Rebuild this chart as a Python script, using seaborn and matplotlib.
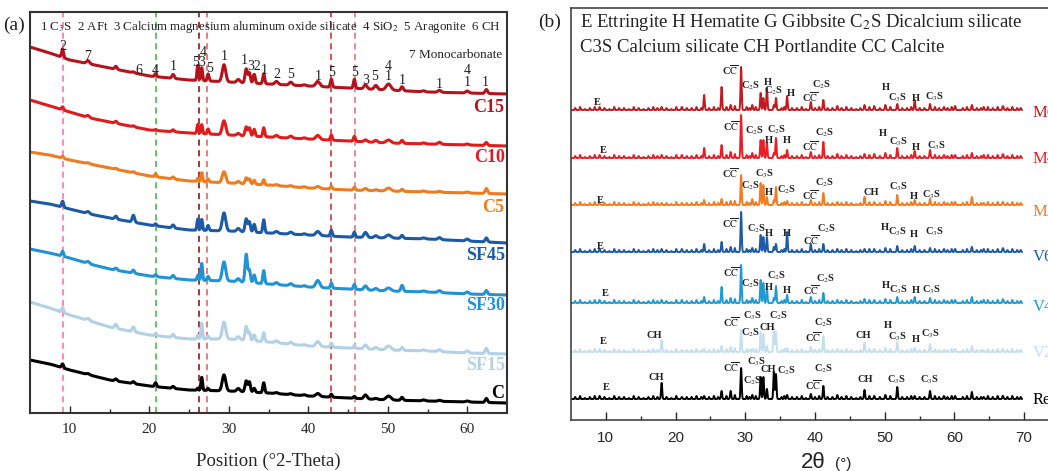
import numpy as np
import pandas as pd
import seaborn as sns
import matplotlib.pyplot as plt

sns.set_theme(style="ticks")
plt.rcParams['font.family'] = ['Liberation Serif', 'DejaVu Sans']
plt.rcParams['mathtext.fontset'] = 'stix'

# ---------------- panel (a) data ----------------
a_samples = ["C15", "C10", "C5", "SF45", "SF30", "SF15", "C"]
a_colors = ["#b5121b", "#e31a1c", "#f07b1e", "#1a5aa6", "#1f93d6", "#b3d1e6", "#000000"]
a_anchor = [5, 7.5, 10, 12.5, 15, 20, 25, 30, 35, 40, 45, 50, 55, 60, 65]
a_base = {
    "C15":  [366, 360, 353, 349, 345, 337, 333, 331, 329, 327, 325, 323, 321, 320, 319],
    "C10":  [313, 307, 301, 295, 291, 283, 280, 278, 276, 274, 272, 270, 269, 268, 267],
    "C5":   [261, 258, 253, 249, 245, 237, 232, 230, 228, 225, 223, 222, 221, 220, 219],
    "SF45": [212, 209, 204, 199, 195, 188, 183, 182, 180, 178, 176, 175, 174, 172, 170],
    "SF30": [164, 160, 155, 149, 144, 137, 133, 132, 129, 126, 124, 122, 121, 119, 118],
    "SF15": [111, 105, 98, 92, 86, 78, 74, 74, 71, 67, 65, 63, 62, 60, 59],
    "C":    [53, 49, 43, 38, 33, 27, 23, 22, 20, 17, 15, 13, 12, 11, 10],
}
a_peak_pos = [9.1, 12.3, 15.8, 18.0, 20.8, 23.0, 26.1, 26.6, 27.4, 29.4, 31.2, 32.2, 32.6, 33.2,
              34.4, 36.0, 37.8, 39.5, 41.2, 42.9, 45.8, 47.2, 48.5, 50.1, 51.8, 54.5, 56.5, 60.0, 62.4]
a_peak_width = [0.12, 0.2, 0.15, 0.15, 0.12, 0.15, 0.1, 0.1, 0.12, 0.22, 0.2, 0.15, 0.13, 0.13,
                0.12, 0.2, 0.2, 0.2, 0.25, 0.12, 0.12, 0.2, 0.2, 0.3, 0.15, 0.2, 0.2, 0.2, 0.15]
a_peak_h = {
    "C15":  [8, 3, 3, 1, 3, 4, 15, 13, 7, 17, 3, 14, 10, 9, 10, 3, 3, 1, 5, 8, 9, 4, 4, 6, 4, 1, 2, 2, 4],
    "C10":  [3, 2, 2, 1, 1, 2, 9, 9, 5, 14, 2, 9, 8, 7, 9, 2, 2, 1, 4, 5, 5, 2, 2, 3, 3, 1, 2, 1, 3],
    "C5":   [2, 1, 1, 1, 3, 2, 3, 9, 3, 11, 2, 6, 5, 4, 5, 1, 1, 1, 2, 3, 3, 2, 1, 3, 2, 1, 1, 1, 5],
    "SF45": [6, 2, 3, 7, 2, 3, 11, 11, 5, 18, 3, 13, 10, 8, 13, 2, 2, 1, 4, 6, 5, 5, 2, 3, 3, 1, 2, 2, 4],
    "SF30": [5, 2, 2, 3, 2, 3, 5, 17, 4, 19, 3, 28, 12, 8, 13, 2, 2, 1, 7, 5, 5, 4, 2, 3, 6, 1, 2, 2, 4],
    "SF15": [5, 2, 4, 5, 2, 3, 4, 16, 3, 17, 3, 14, 8, 6, 9, 2, 2, 1, 5, 4, 3, 4, 2, 4, 3, 1, 2, 2, 5],
    "C":    [4, 1, 2, 2, 4, 2, 2, 13, 2, 16, 3, 11, 10, 4, 10, 1, 1, 1, 3, 3, 2, 4, 1, 4, 3, 1, 1, 1, 4],
}
a_ref_lines = [9.1, 20.9, 26.3, 27.3, 42.9, 45.9]
a_ref_colors = ["#ff66b3", "#3cb043", "#8a0000", "#e05a5a", "#d42020", "#e06a6a"]
a_marks = [("2", 9.1, 366), ("7", 12.3, 356), ("6", 18.7, 343), ("4", 20.8, 343), ("1", 23.0, 346),
           ("53", 26.2, 350), ("4", 26.8, 361), ("5", 27.6, 344), ("1", 29.4, 356), ("1", 32.0, 353),
           ("32", 33.2, 347), ("1", 34.5, 343), ("2", 36.0, 338), ("5", 37.8, 338), ("1", 41.2, 336),
           ("5", 42.9, 340), ("5", 45.8, 340), ("3", 47.2, 333), ("5", 48.4, 336), ("4", 50.0, 347),
           ("1", 50.0, 336), ("1", 51.8, 333), ("1", 56.5, 328), ("4", 60.0, 343), ("1", 60.0, 330),
           ("1", 62.3, 330)]

# ---------------- panel (b) data ----------------
b_samples = ["M6", "M4", "M2", "V60", "V40", "V20", "Ref"]
b_colors = ["#c41a1f", "#ed1c24", "#f47b20", "#1d5aa8", "#1e9ad6", "#c5def0", "#000000"]
b_base = [310, 262, 215, 168, 117, 68, 21]
b_peak_pos = [9.1, 18.0, 20.9, 24.1, 26.6, 27.9, 29.4, 31.0, 32.2, 32.6, 33.1, 34.1, 34.4, 36.0,
              39.4, 41.2, 43.2, 47.1, 48.5, 50.1, 51.8, 54.3, 56.5, 58.5, 60.1, 62.5, 64.2, 67.0]
b_peak_h = {
    "M6":  [3, 3, 3, 15, 23, 5, 43, 5, 17, 12, 22, 5, 12, 14, 8, 10, 4, 5, 4, 5, 6, 10, 6, 3, 4, 5, 3, 3],
    "M4":  [3, 3, 3, 10, 13, 6, 43, 5, 18, 18, 15, 5, 20, 8, 6, 16, 4, 4, 4, 5, 10, 7, 8, 3, 3, 5, 3, 3],
    "M2":  [3, 2, 2, 5, 6, 4, 30, 6, 22, 20, 8, 5, 18, 4, 5, 12, 3, 8, 3, 4, 10, 5, 6, 3, 3, 8, 2, 2],
    "V60": [3, 3, 3, 8, 10, 5, 40, 4, 17, 15, 15, 5, 8, 20, 8, 8, 3, 3, 3, 4, 6, 6, 4, 3, 3, 5, 3, 3],
    "V40": [3, 3, 3, 6, 16, 5, 38, 5, 23, 20, 15, 5, 17, 8, 6, 10, 3, 4, 3, 4, 6, 6, 5, 3, 3, 6, 3, 3],
    "V20": [3, 12, 2, 3, 6, 5, 22, 3, 20, 18, 6, 24, 20, 4, 5, 16, 3, 9, 3, 4, 10, 4, 8, 2, 3, 6, 2, 2],
    "Ref": [3, 16, 2, 3, 8, 8, 31, 4, 22, 22, 10, 27, 25, 4, 5, 13, 4, 9, 3, 4, 12, 3, 8, 3, 3, 7, 2, 2],
}
b_minor_pos = [5.6, 6.3, 7.0, 7.7, 8.4, 9.8, 10.5, 11.2, 11.9, 12.6, 13.3, 14.0, 14.7, 15.4, 16.1,
               16.8, 17.4, 18.7, 19.4, 20.1, 21.6, 22.3, 23.0, 23.7, 24.8, 25.5, 26.1, 27.3, 28.5,
               30.2, 30.6, 31.5, 35.2, 35.6, 36.7, 37.4, 38.1, 38.7, 40.0, 40.6, 41.8, 42.5, 43.8,
               44.5, 45.2, 45.9, 46.5, 47.8, 49.3, 50.8, 52.5, 53.2, 53.8, 55.0, 55.7, 57.2, 57.8,
               59.0, 59.6, 61.2, 61.8, 63.2, 63.8, 64.8, 65.5, 66.2, 66.9, 67.6, 68.3, 69.0, 69.5]
b_minor_h = [2, 3, 1, 2, 3, 2, 1, 3, 2, 2, 1, 3, 2, 1, 2, 3, 2, 2, 1, 3, 2, 2, 3, 2, 2, 3, 2, 3, 4,
             3, 2, 3, 2, 3, 2, 2, 3, 1, 2, 3, 2, 2, 2, 3, 2, 1, 2, 3, 2, 3, 2, 2, 3, 2, 2, 3, 2, 2,
             3, 2, 3, 2, 2, 3, 2, 3, 2, 2, 3, 2, 2]

CC = r"C$\overline{\mathrm{C}}$"
C2S = r"C$_2$S"
C3S = r"C$_3$S"
b_marks = {
    "M6": [("E", 8.8, 318), (CC, 27.9, 350), (C2S, 30.8, 334), ("H", 33.3, 338), (C2S, 34.1, 329),
           ("H", 36.6, 327), (CC, 39.3, 323), (C2S, 41.0, 335), ("H", 50.2, 333), (C3S, 51.9, 322),
           ("H", 54.4, 322), (C3S, 57.2, 323)],
    "M4": [("E", 9.6, 270), (CC, 28.0, 294), (C2S, 31.3, 289), (C2S, 34.5, 290), ("H", 33.4, 280),
           ("H", 35.9, 280), (CC, 39.3, 274), (C2S, 41.4, 287), ("H", 49.8, 287), (C3S, 52.0, 278),
           ("H", 54.4, 273), (C3S, 57.5, 274)],
    "M2": [("E", 9.2, 220), (CC, 27.8, 247), (C3S, 32.8, 246), (C2S, 30.8, 234), ("H", 33.4, 228),
           (C2S, 35.9, 230), (CC, 39.3, 225), (C2S, 41.4, 237), ("CH", 48.0, 228), (C3S, 52.0, 233),
           ("H", 54.2, 224), (C3S, 56.7, 225)],
    "V60": [("E", 9.2, 174), (CC, 27.8, 197), (C2S, 31.6, 191), ("H", 33.4, 187), ("H", 35.9, 187),
            (CC, 39.5, 180), (C2S, 41.6, 191), ("H", 50.0, 193), (C3S, 51.9, 188), ("H", 54.2, 186),
            (C3S, 57.2, 188)],
    "V40": [("E", 9.9, 127), (CC, 28.0, 148), (C2S, 30.8, 136), (C2S, 34.5, 144), ("H", 33.4, 133),
            ("H", 35.9, 130), (CC, 39.5, 130), (C2S, 41.5, 141), ("H", 50.1, 135), (C3S, 52.0, 130),
            ("H", 54.4, 130), (C3S, 56.7, 130)],
    "V20": [("E", 9.6, 79), ("CH", 16.9, 85), (CC, 28.0, 98), (C3S, 31.1, 104), (C2S, 34.8, 104),
            (C2S, 30.8, 87), ("CH", 33.1, 93), (CC, 39.7, 83), (C2S, 41.3, 97), ("CH", 46.9, 85),
            ("H", 50.5, 94), (C3S, 51.9, 83), ("H", 54.4, 80), (C3S, 56.6, 86)],
    "Ref": [("E", 10.1, 33), ("CH", 17.3, 42), (CC, 28.0, 53), (C3S, 31.6, 58), ("CH", 33.3, 50),
            (C2S, 35.9, 49), (C2S, 31.1, 39), (CC, 39.7, 35), (C2S, 41.3, 51), ("CH", 47.2, 40),
            (C3S, 51.7, 40), (C3S, 56.5, 40)],
}


def spectrum(grid, base_x, base_y, pos, heights, widths):
    y = np.interp(grid, base_x, base_y)
    for p, h, w in zip(pos, heights, widths):
        y = y + h * np.exp(-0.5 * ((grid - p) / w) ** 2)
    return y


grid_a = np.linspace(5, 65, 3001)
rows = []
for s in a_samples:
    y = spectrum(grid_a, a_anchor, a_base[s], a_peak_pos, a_peak_h[s], a_peak_width)
    rows.append(pd.DataFrame({"two_theta": grid_a, "I": y, "sample": s}))
df_a = pd.concat(rows)

grid_b = np.linspace(5, 69.7, 3236)
rows = []
for s, b in zip(b_samples, b_base):
    y = spectrum(grid_b, [5, 69.7], [b, b], b_peak_pos, b_peak_h[s], [0.08] * len(b_peak_pos))
    y = y + spectrum(grid_b, [5, 69.7], [0, 0], b_minor_pos, b_minor_h, [0.06] * len(b_minor_pos))
    rows.append(pd.DataFrame({"two_theta": grid_b, "I": y, "sample": s}))
df_b = pd.concat(rows)

# ---------------- figure ----------------
fig = plt.figure(figsize=(10.48, 4.71), dpi=100)
axa = fig.add_axes([30 / 1048, 1 - 413 / 471, 477 / 1048, 401 / 471])
axb = fig.add_axes([571 / 1048, 1 - 420 / 471, 488 / 1048, 412 / 471])

# panel (a)
for xv, c in zip(a_ref_lines, a_ref_colors):
    axa.axvline(xv, color=c, ls=(0, (4, 3)), lw=1.1, zorder=1)
sns.lineplot(data=df_a, x="two_theta", y="I", hue="sample", palette=dict(zip(a_samples, a_colors)),
             legend=False, ax=axa, linewidth=2.2, estimator=None, sort=False, zorder=2)
axa.set_xlim(5, 65)
axa.set_ylim(0, 401)
axa.set_yticks([])
axa.set_xticks(range(10, 61, 10))
axa.set_xticks(range(15, 60, 10), minor=True)
axa.tick_params(axis="x", which="major", direction="in", length=5, width=1, labelsize=11, pad=7)
axa.tick_params(axis="x", which="minor", direction="in", length=3, width=1)
axa.set_ylabel("")
axa.set_xlabel("Position (°2-Theta)", fontsize=13.5, labelpad=12)
for sp in axa.spines.values():
    sp.set_visible(True)
    sp.set_linewidth(1.5)
    sp.set_color("#333333")

lab_y_a = [306, 256, 206, 158, 108, 48, 20]
for s, c, yy in zip(a_samples, a_colors, lab_y_a):
    axa.text(64.7, yy, s, color=c, fontsize=13, fontweight="bold", ha="right", va="center")
for t, xv, yy in a_marks:
    axa.text(xv, yy, t, fontsize=10, ha="center", va="center", color="#222222")
axa.text(6.2, 386, "1 C$_3$S  2 AFt  3 Calcium magnesium aluminum oxide silicate  4 SiO$_2$  5 Aragonite  6 CH",
         fontsize=9.3, ha="left", va="center", color="#222222")
axa.text(64.4, 358, "7 Monocarbonate", fontsize=9.5, ha="right", va="center", color="#222222")
fig.text(14 / 1048, 1 - 25 / 471, "(a)", fontsize=14, ha="center", va="center", color="#222222")

# panel (b)
sns.lineplot(data=df_b, x="two_theta", y="I", hue="sample", palette=dict(zip(b_samples, b_colors)),
             legend=False, ax=axb, linewidth=1.4, estimator=None, sort=False)
axb.set_xlim(5, 75)
axb.set_ylim(0, 412)
axb.set_yticks([])
axb.set_xticks(range(10, 71, 10))
axb.set_xticks(range(15, 70, 10), minor=True)
axb.tick_params(axis="x", which="major", direction="in", length=6, width=1, labelsize=11, pad=8)
axb.tick_params(axis="x", which="minor", direction="in", length=3, width=1)
for lab in axb.get_xticklabels():
    lab.set_family(["Liberation Sans", "DejaVu Sans"])
axb.set_ylabel("")
axb.set_xlabel("")
for sp in axb.spines.values():
    sp.set_visible(True)
    sp.set_linewidth(1.2)
    sp.set_color("#444444")

lab_y_b = [307, 261, 208, 163, 113, 67, 20]
for s, c, yy in zip(b_samples, b_colors, lab_y_b):
    axb.text(71.2, yy, s, color=c, fontsize=12, ha="left", va="center")
for s in b_samples:
    for t, xv, yy in b_marks[s]:
        axb.text(xv, yy, t, fontsize=7.5, fontweight="bold", ha="center", va="center", color="#222222")
axb.text(6.3, 398, "E Ettringite H Hematite G Gibbsite C$_2$S Dicalcium silicate",
         fontsize=13.5, ha="left", va="center", color="#222222")
axb.text(6.3, 373, "C3S Calcium silicate CH Portlandite CC Calcite",
         fontsize=13.5, ha="left", va="center", color="#222222")
fig.text(550 / 1048, 1 - 22 / 471, "(b)", fontsize=14, ha="center", va="center", color="#222222")
fig.text(813 / 1048, 1 - 462 / 471, "2θ", fontsize=16, ha="center", va="center",
         family=["Liberation Sans", "DejaVu Sans"], color="#222222")
fig.text(843 / 1048, 1 - 464 / 471, "(°)", fontsize=11, ha="center", va="center",
         family=["Liberation Sans", "DejaVu Sans"], color="#222222")

fig.savefig("out.png", dpi=100)
